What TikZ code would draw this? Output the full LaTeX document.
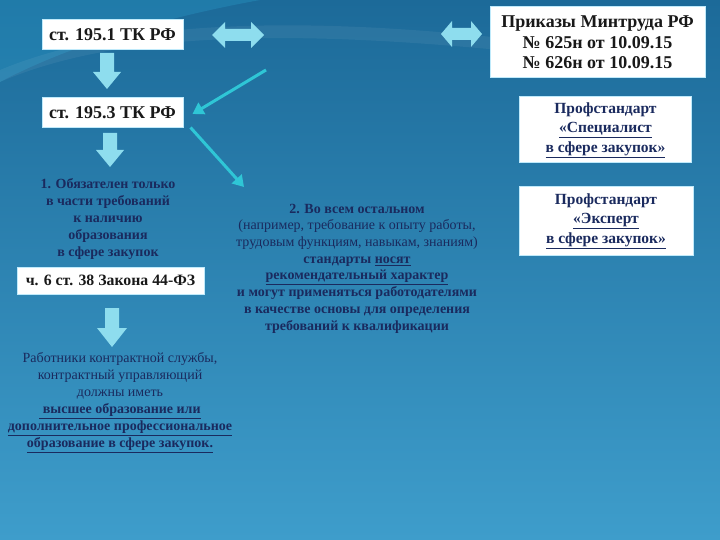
\documentclass[tikz,border=0pt]{standalone}
\usepackage{fontspec}
\setmainfont{Liberation Serif}
\usetikzlibrary{arrows.meta}
\definecolor{navy}{HTML}{1A2A5E}
\definecolor{arrowcyan}{HTML}{8EDDEE}
\definecolor{linecyan}{HTML}{2FC6D6}
\definecolor{bgtop}{HTML}{1C6A99}
\definecolor{bgbot}{HTML}{3E9DCB}
\tikzset{
  wbox/.style={draw=cyan!25, line width=1pt, fill=white, inner sep=2pt, align=center, text=black!90},
  navytext/.style={text=navy, align=center, inner sep=0pt},
  bigarrow/.style={fill=arrowcyan, draw=none},
  thinarrow/.style={draw=linecyan, line width=3pt, -{Triangle[length=11pt,width=13pt]}}
}
\begin{document}
\begin{tikzpicture}[x=1pt,y=-1pt]
\useasboundingbox (0,0) rectangle (720,540);
% background
\shade[top color=bgtop, bottom color=bgbot] (0,0) rectangle (720,540);
\fill[cyan!60!teal, opacity=0.35] (0,0) -- (0,82) .. controls (60,50) and (150,20) .. (260,0) -- cycle;
\fill[white, opacity=0.06] (0,82) .. controls (120,30) and (300,30) .. (520,52) -- (520,40) .. controls (300,15) and (120,20) .. (0,70) -- cycle;

% boxes
\node[wbox, minimum width=141, minimum height=30, font=\bfseries\fontsize{18}{20}\selectfont] (b1) at (112.5,35) {ст. 195.1 ТК РФ};
\node[wbox, minimum width=141, minimum height=30, font=\bfseries\fontsize{18}{20}\selectfont] (b2) at (112.5,113) {ст. 195.3 ТК РФ};
\node[wbox, minimum width=215, minimum height=71, font=\bfseries\fontsize{18}{20.5}\selectfont] (prik) at (597.5,42.5) {Приказы Минтруда РФ\\№ 625н от 10.09.15\\№ 626н от 10.09.15};
\node[wbox, minimum width=172, minimum height=66, text=navy, font=\bfseries\fontsize{15.5}{19.5}\selectfont] (ps1) at (605.5,130) {Профстандарт\\\underline{«Специалист}\\\underline{в сфере закупок»}};
\node[wbox, minimum width=174, minimum height=68, text=navy, font=\bfseries\fontsize{15.5}{19.5}\selectfont] (ps2) at (606,221) {Профстандарт\\\underline{«Эксперт}\\\underline{в сфере закупок»}};
\node[wbox, minimum width=187, minimum height=27, font=\bfseries\fontsize{15.8}{17}\selectfont] (law) at (110.5,280.5) {ч. 6 ст. 38 Закона 44-ФЗ};

% texts
\node[navytext, font=\bfseries\fontsize{14}{16.8}\selectfont] (t1) at (108,219) {1. Обязателен только\\в части требований\\к наличию\\образования\\в сфере закупок};
\node[navytext, font=\fontsize{14}{16.7}\selectfont] (t2) at (357,268.5) {\textbf{2. Во всем остальном}\\(например, требование к опыту работы,\\трудовым функциям, навыкам, знаниям)\\\textbf{стандарты \underline{носят}}\\\textbf{\underline{рекомендательный характер}}\\\textbf{и могут применяться работодателями}\\\textbf{в качестве основы для определения}\\\textbf{требований к квалификации}};
\node[navytext, font=\fontsize{14}{17}\selectfont] (t4) at (120,402.5) {Работники контрактной службы,\\контрактный управляющий\\должны иметь\\\textbf{\underline{ высшее образование или}}\\\textbf{\underline{дополнительное профессиональное}}\\\textbf{\underline{образование в сфере закупок.}}};

% down arrows
\fill[bigarrow] (100,53) -- (114,53) -- (114,72) -- (121,72) -- (107,89) -- (93,72) -- (100,72) -- cycle;
\fill[bigarrow] (103,133) -- (117,133) -- (117,150) -- (124,150) -- (110,167) -- (96,150) -- (103,150) -- cycle;
\fill[bigarrow] (105,308) -- (119,308) -- (119,328) -- (127,328) -- (112,347) -- (97,328) -- (105,328) -- cycle;

% double arrows
\fill[bigarrow] (212,35) -- (225,22) -- (225,29) -- (251,29) -- (251,22) -- (264,35) -- (251,48) -- (251,41) -- (225,41) -- (225,48) -- cycle;
\fill[bigarrow] (441,34) -- (452,21) -- (452,28) -- (471,28) -- (471,21) -- (482,34) -- (471,47) -- (471,40) -- (452,40) -- (452,47) -- cycle;

% thin arrows
\coordinate (s1) at (266,70);
\coordinate (e1) at ([xshift=9pt,yshift=-1pt]b2.east);
\coordinate (s2) at ([xshift=7pt,yshift=1pt]b2.south east);
\coordinate (e2) at (244,187);
\draw[thinarrow] (s1) -- (e1);
\draw[thinarrow] (s2) -- (e2);
\end{tikzpicture}
\end{document}
